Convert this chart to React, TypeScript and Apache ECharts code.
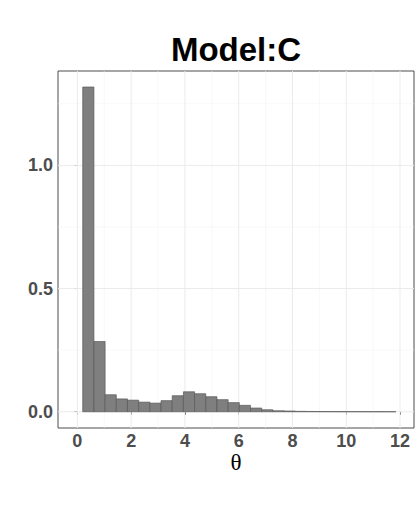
import React, { useEffect, useRef } from "react";
import * as echarts from "echarts";

const titleText = "Model:C";
const xTitle = "θ";
const binStart = 0.2;
const binWidth = 0.416;
const density = [
  1.318, 0.285, 0.069, 0.052, 0.047, 0.039, 0.035, 0.045, 0.065, 0.081,
  0.073, 0.061, 0.049, 0.037, 0.026, 0.015, 0.008, 0.004, 0.003, 0.0015,
  0.001, 0.0007, 0.0005, 0.0004, 0.0003, 0.0002, 0.0002, 0.0001,
];
const xMajor = [0, 2, 4, 6, 8, 10, 12];
const xMinor = [-1, 1, 3, 5, 7, 9, 11];
const yMajor = [0, 0.5, 1.0];
const yMinor = [0.25, 0.75, 1.25];
const yLabels = ["0.0", "0.5", "1.0"];

const FONT = "Liberation Sans, Arial, sans-serif";

export default function App() {
  const ref = useRef<HTMLDivElement>(null);
  useEffect(() => {
    if (!ref.current) return;
    const chart = echarts.init(ref.current, null, { renderer: "svg" });
    const bins = density.map((d, i) => [
      binStart + i * binWidth,
      binStart + (i + 1) * binWidth,
      d,
    ]);
    const gridData: any[] = [];
    xMinor.forEach((v) => gridData.push([v, 0, 0]));
    yMinor.forEach((v) => gridData.push([v, 1, 0]));
    xMajor.forEach((v) => gridData.push([v, 0, 1]));
    yMajor.forEach((v) => gridData.push([v, 1, 1]));

    chart.setOption({
      animation: false,
      backgroundColor: "#ffffff",
      grid: {
        left: 58,
        right: 6,
        top: 71,
        bottom: 82,
        show: true,
        backgroundColor: "#ffffff",
        borderColor: "#4d4d4d",
        borderWidth: 1,
      },
      xAxis: {
        type: "value",
        min: -0.72,
        max: 12.52,
        splitLine: { show: false },
        axisLine: { show: false },
        axisTick: {
          show: true,
          customValues: xMajor,
          length: 3,
          lineStyle: { color: "#333333" },
        },
        axisLabel: {
          customValues: xMajor,
          color: "#4d4d4d",
          fontWeight: "bold",
          fontSize: 18,
          fontFamily: FONT,
          margin: 4,
        },
      },
      yAxis: {
        type: "value",
        min: -0.066,
        max: 1.383,
        splitLine: { show: false },
        axisLine: { show: false },
        axisTick: {
          show: true,
          customValues: yMajor,
          length: 3,
          lineStyle: { color: "#333333" },
        },
        axisLabel: {
          customValues: yMajor,
          formatter: (v: number) => {
            const i = yMajor.findIndex((m) => Math.abs(m - v) < 1e-9);
            return i >= 0 ? yLabels[i] : "";
          },
          color: "#4d4d4d",
          fontWeight: "bold",
          fontSize: 18,
          fontFamily: FONT,
          margin: 5,
        },
      },
      series: [
        {
          type: "custom",
          silent: true,
          data: gridData,
          renderItem: (params: any, api: any) => {
            const cs = params.coordSys;
            const v = api.value(0);
            const orient = api.value(1);
            const major = api.value(2) === 1;
            const style = {
              stroke: major ? "#ebebeb" : "#f4f4f4",
              lineWidth: major ? 1 : 0.6,
            };
            if (orient === 0) {
              const p = api.coord([v, 0]);
              return {
                type: "line",
                shape: { x1: p[0], y1: cs.y, x2: p[0], y2: cs.y + cs.height },
                style,
              };
            }
            const p = api.coord([0, v]);
            return {
              type: "line",
              shape: { x1: cs.x, y1: p[1], x2: cs.x + cs.width, y2: p[1] },
              style,
            };
          },
          clip: true,
          z: 1,
        },
        {
          type: "custom",
          data: bins,
          renderItem: (params: any, api: any) => {
            const p0 = api.coord([api.value(0), api.value(2)]);
            const p1 = api.coord([api.value(1), 0]);
            return {
              type: "rect",
              shape: {
                x: p0[0],
                y: p0[1],
                width: p1[0] - p0[0],
                height: p1[1] - p0[1],
              },
              style: { fill: "#7f7f7f", stroke: "#595959", lineWidth: 0.7 },
            };
          },
          z: 2,
        },
      ],
      graphic: [
        {
          type: "text",
          x: 236,
          y: 49,
          style: {
            text: titleText,
            fontSize: 33,
            fontWeight: "bold",
            fontFamily: FONT,
            fill: "#000000",
            align: "center",
            verticalAlign: "middle",
          },
        },
        {
          type: "text",
          x: 236,
          y: 462,
          style: {
            text: xTitle,
            fontSize: 23,
            fontFamily: "Liberation Serif, Times New Roman, serif",
            fill: "#000000",
            align: "center",
            verticalAlign: "middle",
          },
        },
      ],
    });
    return () => chart.dispose();
  }, []);
  return (
    <div
      ref={ref}
      style={{ position: "fixed", left: 0, top: 0, width: 420, height: 510 }}
    />
  );
}
